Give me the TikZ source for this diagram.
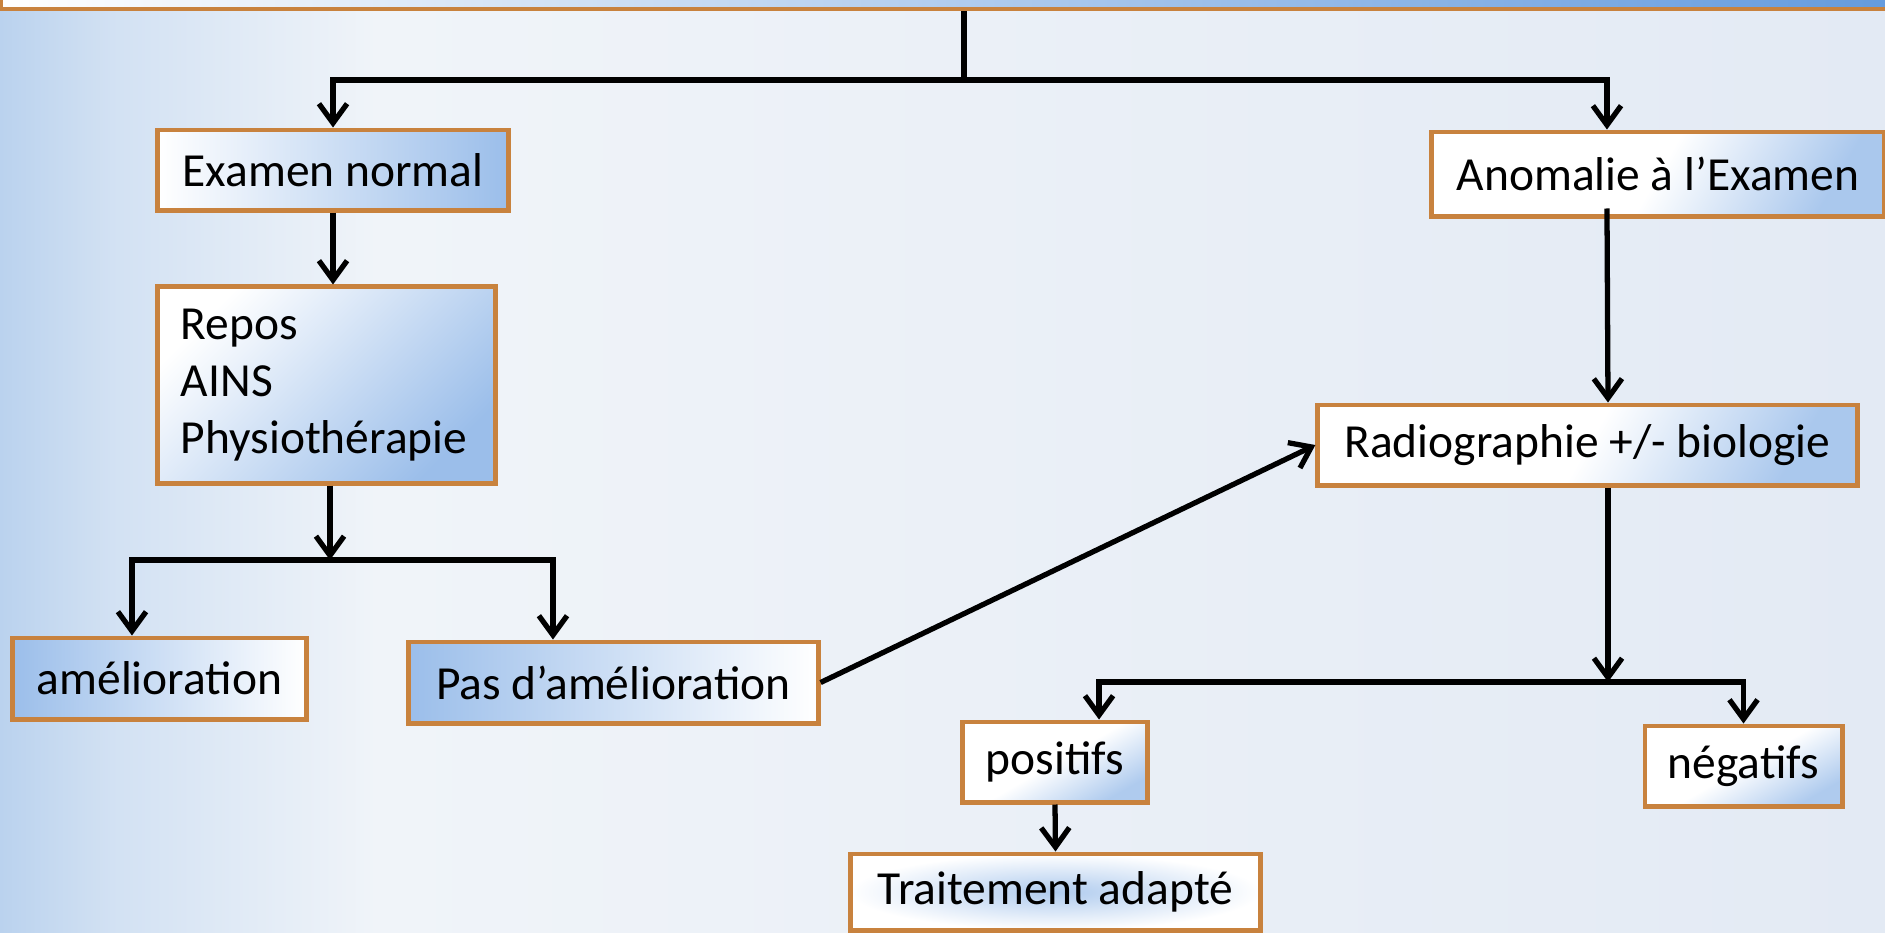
\documentclass[tikz,border=0pt]{standalone}
\usepackage{fontspec}
\setmainfont{Carlito}
\usetikzlibrary{arrows.meta}
\definecolor{boxorange}{RGB}{200,130,62}
\definecolor{boxblue}{RGB}{155,190,234}
\definecolor{topblue}{RGB}{100,155,222}
\definecolor{bgleft}{RGB}{186,210,238}
\definecolor{bgmid}{RGB}{240,244,249}
\definecolor{bgright}{RGB}{227,234,244}
\pgfdeclarehorizontalshading{bgshade}{100bp}{color(0bp)=(bgleft); color(25bp)=(bgleft); color(28bp)=(bgleft!55!bgmid); color(35bp)=(bgmid); color(75bp)=(bgright); color(100bp)=(bgright)}

\begin{document}
\begin{tikzpicture}[
    x=0.01cm, y=-0.01cm,
    box/.style={rectangle, draw=boxorange, line width=1.4pt, inner sep=0pt, text=black, font=\fontsize{13.5pt}{16.2pt}\selectfont},
    headbox/.style={box, left color=white, right color=topblue},
    normbox/.style={box, left color=white, right color=boxblue},
    diagbox/.style={box, top color=white, bottom color=boxblue, shading angle=45},
    backbox/.style={box, left color=boxblue, right color=white},
    fadebox/.style={box, top color=white, bottom color=boxblue!85, middle color=white, shading angle=60},
    cornerbox/.style={box, top color=white, bottom color=boxblue!80, middle color=white, shading angle=30},
    glowbox/.style={box, inner color=boxblue!80, outer color=white},
    link/.style={line width=1.5pt},
    arrow/.style={line width=1.5pt, -{Straight Barb[length=5.5pt, width=8pt]}}
]

\useasboundingbox (0,0) rectangle (1885,932);
\clip (0,0) rectangle (1885,932);
\shade[shading=bgshade] (0,0) rectangle (1885,932);

\node (head) [headbox, minimum width=18.9cm, minimum height=0.5cm] at (946,-16) {};

\node (exnorm) [normbox, minimum width=3.5cm, minimum height=0.8cm] at (333,170) {Examen normal};

\node (anom) [fadebox, minimum width=4.52cm, minimum height=0.84cm] at (1658,174) {Anomalie à l’Examen};

\node (repos) [diagbox, minimum width=3.37cm, minimum height=1.96cm, text width=2.91cm, align=left] at (326.5,385) {Repos\\AINS\\Physiothérapie};

\node (amel) [backbox, minimum width=2.93cm, minimum height=0.81cm] at (159.5,678.5) {amélioration};

\node (pas) [backbox, minimum width=4.09cm, minimum height=0.81cm] at (613.5,682.5) {Pas d’amélioration};

\node (radio) [fadebox, minimum width=5.39cm, minimum height=0.8cm] at (1587.5,445) {Radiographie +/- biologie};

\node (pos) [cornerbox, minimum width=1.84cm, minimum height=0.8cm] at (1055,762) {positifs};

\node (neg) [cornerbox, minimum width=1.97cm, minimum height=0.8cm] at (1743.5,766) {négatifs};

\node (trait) [glowbox, minimum width=4.1cm, minimum height=0.76cm] at (1055.5,892) {Traitement adapté};

\coordinate (j0) at (964,80);
\coordinate (j1) at (330,560);
\coordinate (j2) at (1608,682);

\draw[link] (head.south -| j0) -- (j0);
\draw[arrow] (j0) -| (exnorm.north);
\draw[arrow] (j0) -| ([xshift=-0.51cm]anom.north);
\draw[arrow] (exnorm.south) -- (repos.north -| exnorm.south);
\draw[arrow] (repos.south -| j1) -- (j1);
\draw[arrow] (j1) -| ([xshift=-0.275cm]amel.north);
\draw[arrow] (j1) -| ([xshift=-0.605cm]pas.north);
\draw[arrow] ([xshift=-0.51cm, yshift=0.1cm]anom.south) -- (radio.north -| j2);
\draw[arrow] (pas.east) -- (radio.west);
\draw[arrow] (radio.south -| j2) -- (j2);
\draw[arrow] (j2) -| ([xshift=0.44cm]pos.north);
\draw[arrow] (j2) -| (neg.north);
\draw[arrow] (pos.south) -- (trait.north);

\end{tikzpicture}
\end{document}
